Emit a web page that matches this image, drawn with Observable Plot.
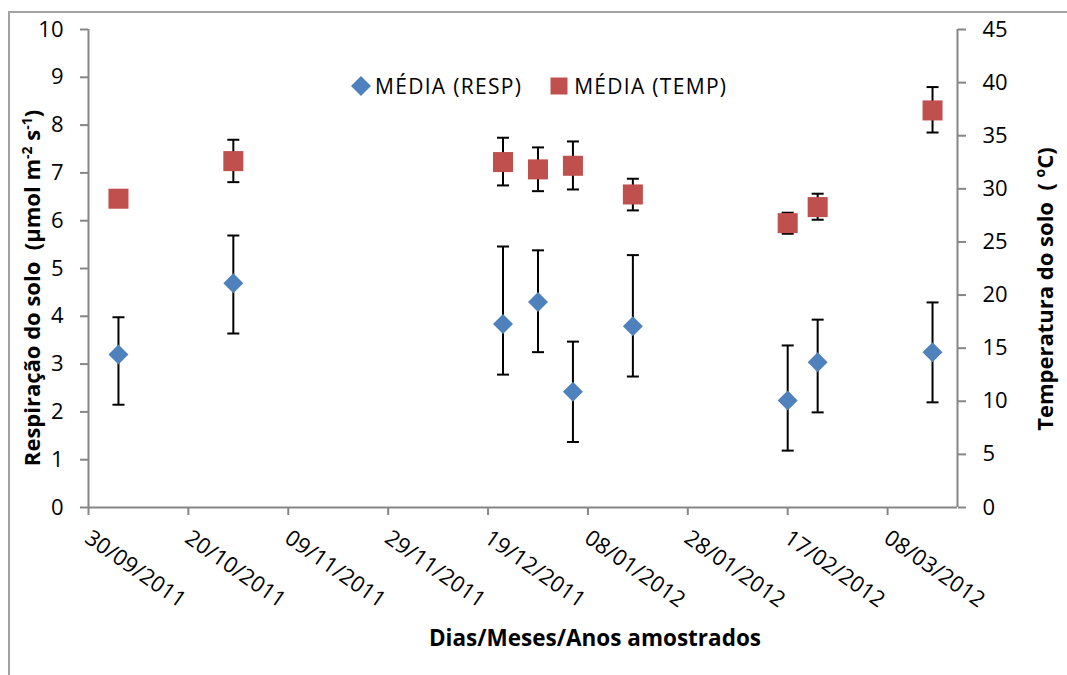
<!DOCTYPE html>
<html><head><meta charset="utf-8">
<script src="https://cdn.jsdelivr.net/npm/d3@7"></script>
<script src="https://cdn.jsdelivr.net/npm/@observablehq/plot@0.6"></script>
<style>
html,body{margin:0;padding:0;background:#fff;overflow:hidden}
#wrap{position:relative;width:1067px;height:675px;font-family:'Open Sans',sans-serif}
#frame{position:absolute;left:8px;top:11px;width:1100px;height:700px;border-left:2px solid #a3a3a3;border-top:2px solid #a3a3a3;pointer-events:none}
#legend{position:absolute;left:350px;top:70px;height:32px;display:flex;align-items:center;font-size:21px;letter-spacing:1.3px;color:#000;white-space:nowrap}
#legend .item{display:flex;align-items:center}
#legend svg{display:block}
</style></head>
<body><div id="wrap"><div id="chart"></div><div id="legend"></div><div id="frame"></div></div>
<script>
// ---- data ----
const sampleDates = ["2011-10-06","2011-10-29","2011-12-22","2011-12-29","2012-01-05","2012-01-17","2012-02-17","2012-02-23","2012-03-17"];
const respMean = [3.20, 4.69, 3.84, 4.30, 2.42, 3.79, 2.24, 3.04, 3.25];
const respLow  = [2.15, 3.64, 2.78, 3.25, 1.37, 2.74, 1.19, 1.99, 2.20];
const respHigh = [3.98, 5.69, 5.46, 5.38, 3.47, 5.28, 3.39, 3.93, 4.29];
const tempMean = [29.07, 32.61, 32.52, 31.83, 32.17, 29.47, 26.77, 28.28, 37.38];
const tempLow  = [28.60, 30.63, 30.32, 29.78, 29.94, 27.97, 25.77, 27.09, 35.30];
const tempHigh = [29.50, 34.62, 34.81, 33.90, 34.46, 30.95, 27.75, 29.54, 39.58];
const xTickLabels = ["30/09/2011","20/10/2011","09/11/2011","29/11/2011","19/12/2011","08/01/2012","28/01/2012","17/02/2012","08/03/2012"];
const xDomainLabels = ["30/09/2011","22/03/2012"];
const leftTicks = [0,1,2,3,4,5,6,7,8,9,10];
const rightTicks = [0,5,10,15,20,25,30,35,40,45];
const seriesNames = ["MÉDIA (RESP)","MÉDIA (TEMP)"];
const colors = ["#4F81BD","#C0504D"];

// ---- build ----
const parse = d3.utcParse("%Y-%m-%d");
const parseTick = d3.utcParse("%d/%m/%Y");
const fmt = d3.utcFormat("%d/%m/%Y");
const xTicks = xTickLabels.map(parseTick);
const xDomain = xDomainLabels.map(parseTick);
const leftMax = 10, rightMax = 45;
const toLeft = t => t * leftMax / rightMax;

const resp = sampleDates.map((d,i)=>({date: parse(d), mean: respMean[i], lo: respLow[i], hi: respHigh[i]}));
const temp = sampleDates.map((d,i)=>({date: parse(d), mean: toLeft(tempMean[i]), lo: toLeft(tempLow[i]), hi: toLeft(tempHigh[i])}));

const cap = {draw(ctx){ ctx.moveTo(-6,0); ctx.lineTo(6,0); }};
const axisGray = "#868686";

function errorMarks(data){
  return [
    Plot.ruleX(data, {x:"date", y1:"lo", y2:"hi", stroke:"black", strokeWidth:2}),
    Plot.dot(data, {x:"date", y:"lo", symbol:cap, stroke:"black", strokeWidth:2, fill:"none"}),
    Plot.dot(data, {x:"date", y:"hi", symbol:cap, stroke:"black", strokeWidth:2, fill:"none"})
  ];
}

const chart = Plot.plot({
  width: 1067, height: 675,
  marginLeft: 88, marginRight: 110, marginTop: 29, marginBottom: 168,
  style: {fontFamily: "'Open Sans', sans-serif", fontSize: "22px", color: "black", background: "white", overflow: "visible"},
  x: {type: "utc", domain: xDomain},
  y: {domain: [0, leftMax]},
  marks: [
    Plot.ruleX([xDomain[0]], {stroke: axisGray, strokeWidth: 2}),
    Plot.ruleX([xDomain[1]], {stroke: axisGray, strokeWidth: 2}),
    Plot.ruleY([0], {stroke: axisGray, strokeWidth: 2}),
    Plot.axisX({ticks: xTicks, tickSize: 8, stroke: axisGray, strokeWidth: 2, fill: "none", label: null, tickFormat: fmt}),
    Plot.text(xTicks, {x: d => d, y: () => 0, text: d => fmt(d), rotate: 35, textAnchor: "start", lineAnchor: "top", dy: 21, dx: 4, fontSize: 22, fill: "black", ariaLabel: "xlabels"}),
    Plot.axisY({ticks: leftTicks, anchor: "left", tickSize: 8, tickPadding: 17, stroke: axisGray, strokeWidth: 2, fill: "black", label: null, fontSize: 22}),
    Plot.axisY({ticks: rightTicks.map(toLeft), anchor: "right", tickSize: 8, tickPadding: 17, stroke: axisGray, strokeWidth: 2, fill: "black", label: null, fontSize: 22,
      tickFormat: v => String(Math.round(v * rightMax / leftMax))}),
    ...errorMarks(resp),
    Plot.dot(resp, {x:"date", y:"mean", symbol:"diamond2", r:9, fill: colors[0], stroke: "none"}),
    ...errorMarks(temp),
    Plot.dot(temp, {x:"date", y:"mean", symbol:"square", r:11.3, fill: colors[1], stroke: "none"})
  ]
});
document.getElementById("chart").appendChild(chart);

const svg = d3.select(chart);
svg.selectAll('g[aria-label="xlabels"] text').style("letter-spacing","1.2px");

// axis titles
const t1 = svg.append("text").attr("transform","translate(40,288) rotate(-90)")
  .attr("text-anchor","middle").attr("font-weight","bold").attr("font-size",22).attr("fill","black").style("white-space","pre");
t1.append("tspan").text("Respiração do solo  (µmol m");
t1.append("tspan").attr("dy",-8).attr("font-size",14).text("-2");
t1.append("tspan").attr("dy",8).text(" s");
t1.append("tspan").attr("dy",-8).attr("font-size",14).text("-1");
t1.append("tspan").attr("dy",8).text(")");

const t2 = svg.append("text").attr("transform","translate(1053,289) rotate(-90)")
  .attr("text-anchor","middle").attr("font-weight","bold").attr("font-size",22).attr("fill","black").style("white-space","pre");
t2.append("tspan").text("Temperatura do solo  ( ");
t2.append("tspan").attr("dy",-8).attr("font-size",14).text("o");
t2.append("tspan").attr("dy",8).text("C)");

svg.append("text").attr("x",595).attr("y",646).attr("text-anchor","middle").attr("font-weight","bold")
  .attr("font-size",22.5).attr("fill","black").text("Dias/Meses/Anos amostrados");

// legend
const legend = d3.select("#legend");
const i1 = legend.append("div").attr("class","item");
i1.append("svg").attr("width",22).attr("height",22).append("path").attr("d","M11,1 L21,11 L11,21 L1,11 Z").attr("fill",colors[0]);
i1.append("span").style("margin-left","3px").text(seriesNames[0]);
const i2 = legend.append("div").attr("class","item").style("margin-left","28px");
i2.append("svg").attr("width",18).attr("height",18).append("rect").attr("x",0.5).attr("y",0.5).attr("width",17).attr("height",17).attr("fill",colors[1]);
i2.append("span").style("margin-left","6px").text(seriesNames[1]);
</script>
</body></html>
